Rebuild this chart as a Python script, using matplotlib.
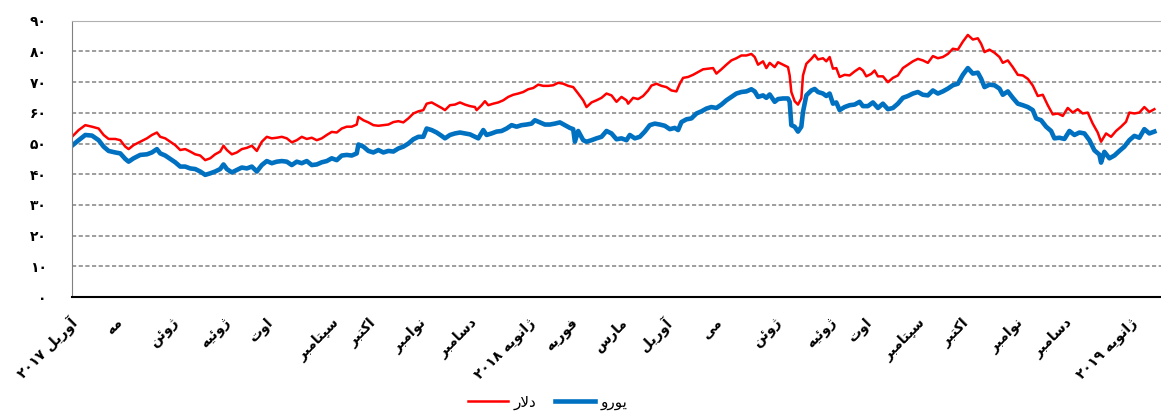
import matplotlib
matplotlib.use("Agg")
import matplotlib.pyplot as plt

# --- data ---
red_day = [0, 4, 8, 12, 16, 19, 22, 26, 29, 32, 34, 37, 41, 45, 48, 51, 53, 56, 59, 62,
           65, 68, 71, 74, 77, 80, 83, 86, 89, 91, 93, 96, 99, 102, 105, 108, 111, 114, 117, 120,
           123, 126, 129, 132, 135, 138, 141, 144, 147, 150, 153, 156, 159, 162, 165,
           168, 171, 172, 175, 178, 181, 184, 187, 190, 193, 196, 199, 202, 205, 208, 211, 213, 216, 219, 222,
           224, 227, 230, 233, 236, 239, 242, 243, 246, 248, 250, 253, 256, 259, 262, 265, 268, 271, 274, 277,
           280, 283, 286, 289, 292, 295, 298, 301, 304, 307, 309, 312, 315, 318, 321, 324, 327,
           330, 333, 334, 337, 340, 343, 346, 348, 351, 354, 357, 360, 363, 365, 367, 370, 373, 376, 379, 382,
           385, 387, 390, 393, 396, 399, 402, 405, 408, 410, 412, 415, 417, 419, 422, 424, 427, 430, 431, 432,
           434, 436, 438, 439, 441, 444, 446, 448, 451, 453, 455, 457, 459, 461, 464, 467, 470, 473, 475, 477,
           480, 482, 484, 487, 490,
           493, 496, 499, 502, 505, 508, 511, 514, 517, 520, 523, 526, 529, 532, 535, 538, 541, 544, 546, 548,
           551, 554, 557, 559, 562, 565, 568, 571, 574, 577, 580, 583, 586, 589, 592, 595, 598, 601, 604, 607,
           610, 613, 616, 618, 621, 624, 627, 630, 633, 635, 638, 641, 644, 647, 650]
dollar = [52.2, 54.4, 56.0, 55.5, 54.9, 52.8, 51.5, 51.5, 51.1, 49.0, 48.2, 49.5, 50.6, 51.7, 52.8, 53.6, 52.2, 51.7, 50.6, 49.5,
          47.9, 48.2, 47.4, 46.5, 46.1, 44.6, 45.2, 46.5, 47.4, 49.3, 47.9, 46.5, 47.1, 48.2, 48.6, 49.3, 47.6, 50.6, 52.2, 51.7,
          51.9, 52.2, 51.7, 50.4, 51.1, 52.2, 51.5, 51.9, 51.1, 51.7, 52.8, 53.8, 53.6, 54.9, 55.5,
          55.5, 56.2, 58.7, 57.6, 56.9, 56.0, 55.8, 56.0, 56.2, 57.0, 57.3, 56.9, 58.2, 59.8, 60.5, 60.9, 63.0, 63.4, 62.5, 61.6,
          60.9, 62.5, 62.7, 63.4, 62.7, 62.2, 61.9, 60.9, 62.5, 63.8, 62.5, 63.0, 63.4, 64.1, 65.2, 65.9, 66.3, 66.8, 67.7, 68.1,
          69.2, 68.8, 68.8, 69.0, 69.8, 69.5, 68.8, 68.4, 66.3, 64.1, 61.9, 63.4, 64.1, 64.9, 66.3, 65.7, 63.6,
          65.2, 64.1, 63.0, 64.9, 64.5, 65.5, 67.3, 68.9, 69.5, 68.8, 68.4, 67.3, 67.0, 69.5, 71.4, 71.7, 72.4, 73.3, 74.2, 74.4,
          74.6, 72.8, 74.2, 75.7, 77.1, 77.8, 78.7, 78.7, 79.2, 78.2, 75.7, 76.8, 74.6, 76.3, 74.9, 76.5, 75.7, 74.9, 72.2, 66.8,
          63.8, 62.7, 64.7, 72.2, 76.0, 77.6, 78.9, 77.4, 77.8, 76.8, 78.2, 74.4, 74.6, 71.7, 72.4, 72.2, 73.5, 74.6, 73.8, 71.9,
          72.7, 73.8, 71.9, 71.9, 70.0,
          71.4, 72.2, 74.6, 75.7, 76.8, 77.6, 77.1, 76.3, 78.5, 77.8, 78.2, 79.2, 80.9, 80.6, 83.2, 85.4, 83.9, 84.3, 82.5, 79.8,
          80.6, 79.6, 78.2, 76.3, 77.1, 74.9, 72.4, 72.2, 71.1, 68.9, 65.5, 65.9, 62.5, 59.5, 59.8, 59.0, 61.6, 60.1, 61.2, 59.8,
          60.1, 56.5, 53.6, 50.6, 53.3, 52.2, 54.1, 55.5, 57.1, 60.1, 59.8, 60.1, 61.9, 60.3, 61.2]

blue_day = [0, 4, 8, 12, 16, 19, 22, 26, 29, 32, 34, 37, 41, 45, 48, 51, 53, 56, 59, 62,
            65, 68, 71, 74, 77, 80, 83, 86, 89, 91, 93, 96, 99, 102, 105, 108, 111, 114, 117, 120,
            123, 126, 129, 132, 135, 138, 141, 144, 147, 150, 153, 156, 159, 162, 165,
            168, 171, 172, 175, 178, 181, 184, 187, 190, 193, 196, 199, 202, 205, 208, 211, 213, 216, 219, 222,
            224, 227, 230, 233, 236, 239, 242, 244, 247, 249, 252, 255, 258, 261, 264, 267, 270, 273, 276, 278,
            281, 284, 287, 290, 293, 296, 299, 301, 302, 304, 307, 309, 312, 315, 318, 321, 324, 327,
            330, 333, 335, 338, 341, 344, 347, 350, 353, 356, 359, 362, 364, 366, 369, 372, 375, 378, 381, 384,
            387, 390, 393, 396, 399, 402, 405, 408, 410, 412, 415, 417, 419, 422, 424, 427, 430, 431, 432, 434,
            436, 438, 439, 441, 444, 446, 448, 451, 453, 455, 457, 459, 461, 464, 467, 470, 473, 475, 478, 481,
            484, 487, 490,
            493, 496, 499, 502, 505, 508, 511, 514, 517, 520, 523, 526, 529, 532, 535, 538, 541, 544, 546, 548,
            551, 554, 557, 559, 562, 565, 568, 571, 574, 577, 579, 582, 585, 588, 590, 593, 596, 599, 602, 605,
            608, 611, 614, 617, 618, 620, 623, 626, 629, 632, 635, 638, 641, 644, 647, 650]
euro = [49.3, 51.1, 52.8, 52.6, 51.1, 49.0, 47.6, 47.1, 46.8, 45.0, 44.1, 45.2, 46.3, 46.5, 47.1, 48.2, 46.8, 46.1, 45.0, 43.9,
        42.5, 42.5, 41.9, 41.7, 40.9, 39.8, 40.3, 40.9, 41.7, 43.2, 41.7, 40.6, 41.4, 42.2, 41.9, 42.5, 40.9, 43.0, 44.3, 43.6,
        44.1, 44.3, 44.1, 43.0, 44.1, 43.6, 44.3, 43.0, 43.2, 43.9, 44.3, 45.2, 44.6, 46.1, 46.3,
        46.1, 46.8, 49.7, 49.0, 47.6, 47.1, 47.9, 47.1, 47.6, 47.4, 48.4, 49.0, 50.0, 51.4, 52.2, 52.2, 54.9, 54.4, 53.6, 52.5,
        51.7, 52.8, 53.3, 53.6, 53.3, 53.0, 52.2, 51.7, 54.4, 52.8, 53.3, 53.9, 54.1, 54.9, 56.0, 55.5, 56.0, 56.2, 56.5, 57.6,
        56.9, 56.2, 56.2, 56.5, 56.9, 56.0, 55.1, 54.7, 50.6, 54.1, 51.1, 50.6, 51.1, 51.7, 52.2, 54.1, 53.3, 51.4,
        51.7, 51.1, 52.8, 51.7, 52.2, 53.9, 56.0, 56.5, 56.2, 55.8, 54.7, 55.1, 54.4, 57.0, 57.9, 58.2, 59.8, 60.5, 61.4, 61.9,
        61.6, 62.7, 64.1, 65.2, 66.3, 66.8, 67.0, 67.7, 67.0, 65.2, 65.7, 64.9, 66.0, 63.6, 64.5, 64.7, 64.7, 63.6, 56.0, 55.5,
        53.9, 55.5, 60.3, 65.7, 67.3, 67.8, 66.8, 66.3, 65.5, 66.3, 63.0, 63.4, 60.9, 61.9, 62.5, 62.7, 63.6, 62.2, 62.2, 63.4,
        61.6, 63.0, 61.2,
        61.6, 63.0, 64.9, 65.5, 66.3, 66.8, 65.9, 65.7, 67.3, 66.3, 67.0, 67.9, 69.0, 69.5, 72.4, 74.6, 72.8, 73.1, 71.1, 68.4,
        69.2, 69.0, 67.9, 65.9, 67.0, 64.9, 63.0, 62.5, 61.9, 60.9, 58.2, 57.6, 55.5, 54.1, 51.7, 51.9, 51.5, 54.1, 52.8, 53.6,
        53.3, 51.1, 47.8, 46.4, 43.8, 47.3, 45.2, 46.1, 47.6, 49.0, 51.1, 52.5, 51.9, 54.7, 53.3, 53.9]

month_day = [2, 29, 63, 94, 119, 159, 181, 211, 242, 277, 303, 332, 359, 389, 425, 458, 479, 511, 537, 570, 599, 638]
month_labels = ["آوریل ۲۰۱۷", "مه", "ژوئن", "ژوئیه", "اوت", "سپتامبر", "اکتبر", "نوامبر", "دسامبر",
                "ژانویه ۲۰۱۸", "فوریه", "مارس", "آوریل", "می", "ژوئن", "ژوئیه", "اوت", "سپتامبر",
                "اکتبر", "نوامبر", "دسامبر", "ژانویه ۲۰۱۹"]
y_ticks = [0, 10, 20, 30, 40, 50, 60, 70, 80, 90]
series_names = ["دلار", "یورو"]

# --- minimal Persian shaping (matplotlib has no bidi / joining) ---
FORMS = {
    'ا': ('\uFE8D', '\uFE8E'), 'آ': ('\uFE81', '\uFE82'),
    'د': ('\uFEA9', '\uFEAA'), 'ر': ('\uFEAD', '\uFEAE'), 'ز': ('\uFEAF', '\uFEB0'),
    'ژ': ('\uFB8A', '\uFB8B'), 'و': ('\uFEED', '\uFEEE'),
    'ب': ('\uFE8F', '\uFE90', '\uFE91', '\uFE92'), 'پ': ('\uFB56', '\uFB57', '\uFB58', '\uFB59'),
    'ت': ('\uFE95', '\uFE96', '\uFE97', '\uFE98'), 'س': ('\uFEB1', '\uFEB2', '\uFEB3', '\uFEB4'),
    'ف': ('\uFED1', '\uFED2', '\uFED3', '\uFED4'), 'ک': ('\uFB8E', '\uFB8F', '\uFB90', '\uFB91'),
    'ل': ('\uFEDD', '\uFEDE', '\uFEDF', '\uFEE0'), 'م': ('\uFEE1', '\uFEE2', '\uFEE3', '\uFEE4'),
    'ن': ('\uFEE5', '\uFEE6', '\uFEE7', '\uFEE8'), 'ه': ('\uFEE9', '\uFEEA', '\uFEEB', '\uFEEC'),
    'ی': ('\uFBFC', '\uFBFD', '\uFBFE', '\uFBFF'), 'ئ': ('\uFE89', '\uFE8A', '\uFE8B', '\uFE8C'),
}
LAM_ALEF = {'ا': ('\uFEFB', '\uFEFC'), 'آ': ('\uFEF5', '\uFEF6')}


def shape_word(w):
    out = []
    i = 0
    while i < len(w):
        c = w[i]
        prev = w[i - 1] if i > 0 else None
        nxt = w[i + 1] if i + 1 < len(w) else None
        jp = prev in FORMS and len(FORMS[prev]) == 4
        if c == 'ل' and nxt in LAM_ALEF:
            out.append(LAM_ALEF[nxt][1 if jp else 0])
            i += 2
            continue
        if c not in FORMS:
            out.append(c)
            i += 1
            continue
        f = FORMS[c]
        jn = len(f) == 4 and nxt in FORMS
        if jp and jn:
            out.append(f[3])
        elif jp:
            out.append(f[1])
        elif jn:
            out.append(f[2])
        else:
            out.append(f[0])
        i += 1
    return ''.join(out)


def fa(s):
    parts = []
    for w in reversed(s.split(' ')):
        if all('\u06F0' <= ch <= '\u06F9' for ch in w):
            parts.append(w)
        else:
            parts.append(shape_word(w)[::-1])
    return ' '.join(parts)


def fa_num(v):
    return str(v).translate(str.maketrans('0123456789', '۰۱۲۳۴۵۶۷۸۹'))


plt.rcParams['font.family'] = ['DejaVu Sans']

fig = plt.figure(figsize=(11.61, 4.16), dpi=100)
ax = fig.add_axes([0.062, 0.286, 0.938, 0.664])

ax.plot(blue_day, euro, color='#0070c0', lw=3.3, label=fa(series_names[1]), solid_joinstyle='round')
ax.plot(red_day, dollar, color='#ff0000', lw=1.8, label=fa(series_names[0]), solid_joinstyle='round')

ax.set_xlim(0, 654)
ax.set_ylim(0, 90)
ax.set_yticks(y_ticks)
ax.set_yticklabels([fa_num(v) for v in y_ticks], fontweight='bold', fontsize=10)
ax.set_xticks(month_day)
ax.set_xticklabels([fa(m) for m in month_labels], rotation=45, ha='right', va='center',
                   rotation_mode='anchor', fontweight='bold', fontsize=10)
ax.tick_params(axis='y', length=0, pad=18)
ax.tick_params(axis='x', length=0, pad=17)

ax.grid(axis='y', color='#8c8c8c', linestyle=(0, (2.5, 1.5)), linewidth=1.2)
ax.set_axisbelow(True)
ax.spines['right'].set_visible(False)
ax.spines['top'].set_color('#b0b0b0')
ax.spines['left'].set_color('#808080')
ax.spines['bottom'].set_color('black')
ax.spines['bottom'].set_linewidth(1.5)

h, l = ax.get_legend_handles_labels()
fig.legend(h[::-1], l[::-1], loc='center', bbox_to_anchor=(548 / 1161, 1 - 402 / 416), ncol=2,
           frameon=False, fontsize=11, handlelength=2.6, columnspacing=1.2, handletextpad=0.4)

fig.savefig('out.png', dpi=100)
